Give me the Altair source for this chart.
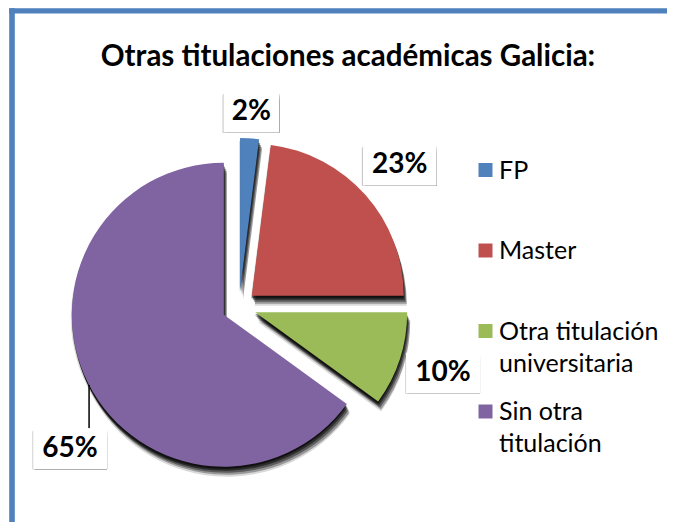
import math
import altair as alt
import pandas as pd

# ---- data ----
categories = ["FP", "Master", "Otra titulación universitaria", "Sin otra titulación"]
values = [2, 23, 10, 65]
pct_labels = ["2%", "23%", "10%", "65%"]
legend_text = ["FP", "Master", "Otra titulación\nuniversitaria", "Sin otra\ntitulación"]
colors = ["#4F81BD", "#C0504D", "#9BBB59", "#8064A2"]
title_text = "Otras titulaciones académicas Galicia:"

# ---- layout / style ----
W, H = 659, 514
CX, CY = 231, 299          # pie centre (px)
R = 152                    # radius
EXPLODE = 17               # slice explosion
R_OUT = 173                # label clearance radius
HH = 20.5                  # label box half height
label_nudge_deg = [0, 0, 0, -13]
label_nudge_r = [0, 0, 0, 6]
LEADER_DX = 19
FONT = "Lato"
shadow_layers = [(0, 2, 0.55), (1, 4, 0.5), (2, 6, 0.4), (3, 8, 0.3), (3, 10, 0.15), (-1, 3, 0.15)]

df = pd.DataFrame({
    "idx": list(range(len(values))),
    "cat": categories,
    "value": values,
    "label": pct_labels,
    "legend": legend_text,
    "nudge": label_nudge_deg,
    "nudge_r": label_nudge_r,
})

base = (
    alt.Chart(df)
    .transform_joinaggregate(total="sum(value)")
    .transform_window(cum="sum(value)", sort=[alt.SortField("idx")], frame=[None, 0])
    .transform_calculate(t1="datum.cum / datum.total")
    .transform_calculate(t0="(datum.cum - datum.value) / datum.total")
    .transform_calculate(mid="PI * (datum.t0 + datum.t1)")
    .transform_calculate(sx=f"{CX} + {EXPLODE} * sin(datum.mid)")
    .transform_calculate(sy=f"{CY} - {EXPLODE} * cos(datum.mid)")
    .transform_calculate(la="datum.mid + datum.nudge * PI / 180")
    .transform_calculate(hw="10 + length(datum.label) * 9")
    .transform_calculate(
        ls=f"{R_OUT} + datum.nudge_r + datum.hw * abs(sin(datum.la)) + {HH} * abs(cos(datum.la))"
    )
    .transform_calculate(lx=f"{CX} + datum.ls * sin(datum.la)")
    .transform_calculate(ly=f"{CY} - datum.ls * cos(datum.la)")
    .transform_calculate(bx1="datum.lx - datum.hw", bx2="datum.lx + datum.hw")
    .transform_calculate(by1=f"datum.ly - {HH}", by2=f"datum.ly + {HH}")
)

theta = alt.Theta("t0:Q", stack=None, scale=alt.Scale(domain=[0, 1], range=[0, 2 * math.pi]))
theta2 = alt.Theta2("t1:Q")
px = alt.X("sx:Q", scale=None)
py = alt.Y("sy:Q", scale=None)

layers = []

# frame (left and top edges of the surrounding box, as filled bands)
one = pd.DataFrame({"a": [0]})
layers.append(
    alt.Chart(one).mark_rect(color="#4F81BD")
    .encode(x=alt.value(1.2), x2=alt.value(6.8), y=alt.value(0.2), y2=alt.value(H + 20))
)
layers.append(
    alt.Chart(one).mark_rect(color="#4F81BD")
    .encode(x=alt.value(1.2), x2=alt.value(W + 20), y=alt.value(0.2), y2=alt.value(5.6))
)

# title
title = alt.Chart(pd.DataFrame({"t": [title_text]})).mark_text(
    font=FONT, fontSize=29.5, fontWeight="bold", color="black", align="center", baseline="middle"
).encode(x=alt.value(340), y=alt.value(49), text="t:N")
layers.append(title)

# slice shadows
for dx, dy, op in shadow_layers:
    layers.append(
        base.mark_arc(outerRadius=R, color="black", opacity=op, xOffset=dx, yOffset=dy)
        .encode(theta=theta, theta2=theta2, x=px, y=py)
    )

# slices
slices = base.mark_arc(outerRadius=R).encode(
    theta=theta, theta2=theta2, x=px, y=py,
    color=alt.Color("cat:N", scale=alt.Scale(domain=categories, range=colors), legend=None),
)
layers.append(slices)

# leader line for moved label
leader = (
    base.transform_filter("datum.nudge != 0")
    .transform_calculate(rx=f"datum.lx + {LEADER_DX}")
    .transform_calculate(ey=f"datum.sy + sqrt({R}*{R} - pow(datum.rx - datum.sx, 2))")
    .mark_rule(color="black", strokeWidth=1.5)
    .encode(x=alt.X("rx:Q", scale=None), y=alt.Y("by1:Q", scale=None), y2="ey:Q")
)
layers.append(leader)

# label box shadows
for dx, dy, op in shadow_layers:
    layers.append(
        base.mark_rect(color="black", opacity=op, xOffset=dx, yOffset=dy)
        .encode(x=alt.X("bx1:Q", scale=None), x2="bx2:Q", y=alt.Y("by1:Q", scale=None), y2="by2:Q")
    )
# label boxes
layers.append(
    base.mark_rect(color="white")
    .encode(x=alt.X("bx1:Q", scale=None), x2="bx2:Q", y=alt.Y("by1:Q", scale=None), y2="by2:Q")
)
# label text
layers.append(
    base.mark_text(font=FONT, fontSize=28, fontWeight="bold", color="black",
                   align="center", baseline="middle")
    .encode(x=alt.X("lx:Q", scale=None), y=alt.Y("ly:Q", scale=None), text="label:N")
)

# legend
leg = alt.Chart(df).transform_calculate(gy="162 + datum.idx * 80.5").transform_calculate(ty="datum.gy + 8.5")
layers.append(
    leg.mark_square(size=196, opacity=1).encode(
        x=alt.value(477.5), y=alt.Y("gy:Q", scale=None),
        color=alt.Color("cat:N", scale=alt.Scale(domain=categories, range=colors), legend=None),
    )
)
layers.append(
    leg.mark_text(font=FONT, fontSize=25, color="black", align="left", baseline="alphabetic",
                  lineBreak="\n", lineHeight=32)
    .encode(x=alt.value(491), y=alt.Y("ty:Q", scale=None), text="legend:N")
)

chart = alt.layer(*layers).properties(
    width=W, height=H, autosize=alt.AutoSizeParams(type="none"), padding=0
).configure_view(stroke=None)

chart.save("out.html", embed_options={"renderer": "svg", "actions": False})
